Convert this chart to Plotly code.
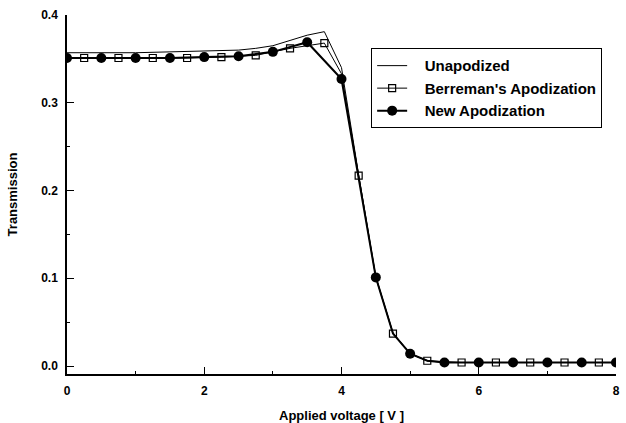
import plotly.graph_objects as go

# Unapodized (line only)
un_x = [0, 0.5, 1.0, 1.5, 2.0, 2.5, 2.75, 3.0, 3.25, 3.5, 3.75, 4.0, 4.25, 4.5, 4.75, 5.0, 5.25, 5.5, 6.0, 6.5, 7.0, 7.5, 8.0]
un_y = [0.357, 0.357, 0.357, 0.358, 0.359, 0.360, 0.362, 0.365, 0.371, 0.377, 0.381, 0.340, 0.218, 0.102, 0.038, 0.014, 0.006, 0.004, 0.004, 0.004, 0.004, 0.004, 0.004]

# Berreman's Apodization: curve, and the points drawn with open squares
be_x = [0, 0.25, 0.75, 1.25, 1.75, 2.25, 2.75, 3.25, 3.75, 4.0, 4.25, 4.5, 4.75, 5.0, 5.25, 5.75, 6.25, 6.75, 7.25, 7.75, 8.0]
be_y = [0.351, 0.351, 0.351, 0.351, 0.351, 0.352, 0.354, 0.362, 0.368, 0.333, 0.217, 0.101, 0.037, 0.014, 0.006, 0.004, 0.004, 0.004, 0.004, 0.004, 0.004]
be_mk_x = [0.25, 0.75, 1.25, 1.75, 2.25, 2.75, 3.25, 3.75, 4.25, 4.75, 5.25, 5.75, 6.25, 6.75, 7.25, 7.75]

# New Apodization: curve, and the points drawn with filled circles
nw_x = [0, 0.5, 1.0, 1.5, 2.0, 2.5, 3.0, 3.5, 4.0, 4.25, 4.5, 4.75, 5.0, 5.25, 5.5, 6.0, 6.5, 7.0, 7.5, 8.0]
nw_y = [0.351, 0.351, 0.351, 0.351, 0.352, 0.353, 0.358, 0.369, 0.327, 0.216, 0.101, 0.037, 0.014, 0.006, 0.004, 0.004, 0.004, 0.004, 0.004, 0.004]
nw_mk_x = [0, 0.5, 1.0, 1.5, 2.0, 2.5, 3.0, 3.5, 4.0, 4.5, 5.0, 5.5, 6.0, 6.5, 7.0, 7.5, 8.0]

x_ticks = [0, 2, 4, 6, 8]
y_ticks = [0.0, 0.1, 0.2, 0.3, 0.4]

FONT = "Liberation Sans, Arial, sans-serif"
PAD = "\u00a0\u00a0\u00a0"

def pick(xs, ys, sel):
    return [ys[xs.index(v)] for v in sel]

sq = dict(symbol="square-open", size=7, color="black", line=dict(width=1.2, color="black"))
ci = dict(symbol="circle", size=10, color="black")

fig = go.Figure()
fig.add_trace(go.Scatter(x=un_x, y=un_y, mode="lines", name=PAD + "Unapodized",
                         line=dict(color="black", width=1)))
fig.add_trace(go.Scatter(x=be_x, y=be_y, mode="lines", showlegend=False,
                         line=dict(color="black", width=1)))
fig.add_trace(go.Scatter(x=be_mk_x, y=pick(be_x, be_y, be_mk_x), mode="markers",
                         showlegend=False, marker=sq))
fig.add_trace(go.Scatter(x=nw_x, y=nw_y, mode="lines", showlegend=False,
                         line=dict(color="black", width=2)))
fig.add_trace(go.Scatter(x=nw_mk_x, y=pick(nw_x, nw_y, nw_mk_x), mode="markers",
                         showlegend=False, marker=ci))
# legend entries
fig.add_trace(go.Scatter(x=[None], y=[None], mode="lines+markers", name=PAD + "Berreman's Apodization",
                         line=dict(color="black", width=1), marker=sq))
fig.add_trace(go.Scatter(x=[None], y=[None], mode="lines+markers", name=PAD + "New Apodization",
                         line=dict(color="black", width=2), marker=ci))

axis_common = dict(showline=True, linecolor="black", linewidth=1.5, mirror=False,
                   ticks="inside", tickcolor="black", ticklen=7, tickwidth=1.2,
                   showgrid=False, zeroline=False, automargin=False,
                   tickfont=dict(family=FONT, size=12, color="black", weight="bold"))

fig.update_xaxes(range=[0, 8], tickvals=x_ticks, ticktext=[str(v) for v in x_ticks],
                 minor=dict(ticks="inside", ticklen=3, tickcolor="black", dtick=1, tick0=0),
                 ticklabelstandoff=5,
                 title=dict(text="Applied voltage [ V ]", standoff=16,
                            font=dict(family=FONT, size=13, color="black", weight="bold")),
                 **axis_common)
fig.update_yaxes(range=[-0.0091, 0.4], tickvals=y_ticks, ticktext=["%.1f" % v for v in y_ticks],
                 minor=dict(ticks="inside", ticklen=3, tickcolor="black", dtick=0.05, tick0=0),
                 ticklabelstandoff=5,
                 title=dict(text="Transmission", standoff=21,
                            font=dict(family=FONT, size=13, color="black", weight="bold")),
                 **axis_common)

fig.update_layout(
    width=626, height=423,
    margin=dict(l=67, r=10, t=15, b=49, autoexpand=False),
    paper_bgcolor="white", plot_bgcolor="white",
    showlegend=True,
    legend=dict(x=0.554, y=0.907, xanchor="left", yanchor="top",
                bgcolor="white", bordercolor="black", borderwidth=1,
                font=dict(family=FONT, size=15, color="black", weight="bold"),
                tracegroupgap=0),
)

fig.write_html("out.html")
